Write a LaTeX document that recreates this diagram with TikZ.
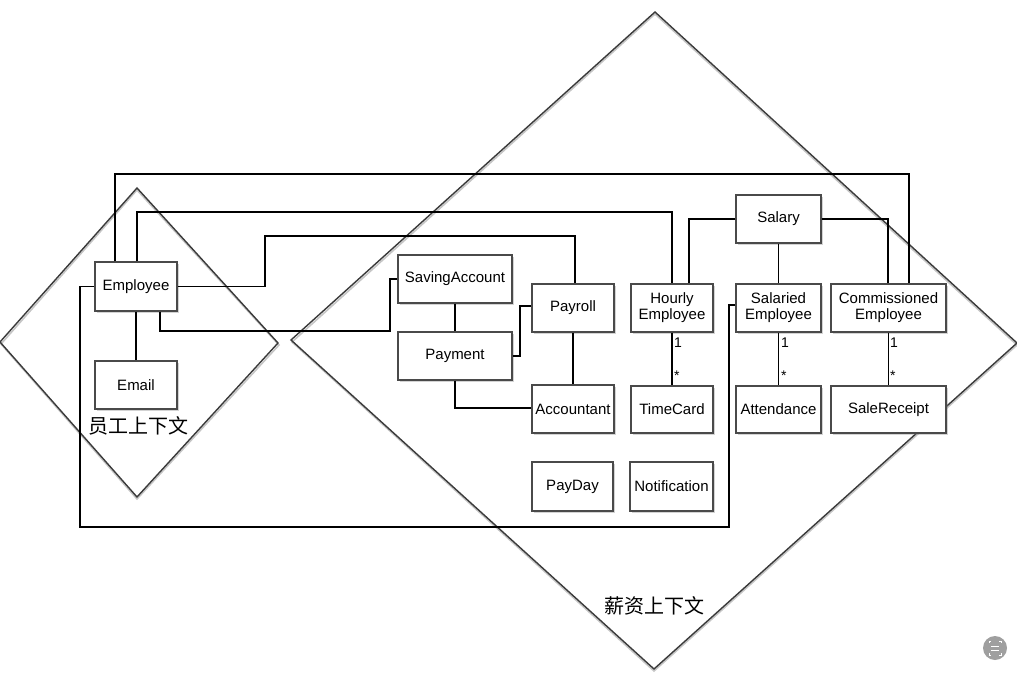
\documentclass[tikz,border=0pt]{standalone}
\usepackage{fontspec}
\setmainfont{Liberation Sans}
\newfontfamily\cjk{Noto Sans CJK SC}
\usetikzlibrary{shadows}
\definecolor{boxline}{HTML}{4A4A4A}
\definecolor{ctxline}{HTML}{3A3A3A}
\begin{document}
\begin{tikzpicture}[x=1pt,y=-1pt,
  box/.style={draw=boxline, line width=1.1pt, fill=white, inner sep=1pt,
    font=\fontsize{15}{16}\selectfont, align=center,
    drop shadow={shadow xshift=1.5pt, shadow yshift=-1.5pt, opacity=0.35, fill=gray}},
  conn/.style={draw=black, line width=1.6pt},
  ctx/.style={draw=ctxline, line width=1.4pt, line join=miter},
  ctxshadow/.style={draw=gray!45, line width=1.6pt},
  mult/.style={font=\fontsize{14}{14}\selectfont, inner sep=0pt, anchor=west},
  ctxlabel/.style={font=\cjk\fontsize{20}{20}\selectfont, inner sep=0pt}]
\useasboundingbox (0,0) rectangle (1017,677);
% contexts (diamonds)
\draw[ctxshadow] (137,190) -- (279,345) -- (137,499) -- (1,344) -- cycle;
\draw[ctx] (137,188) -- (278,343) -- (137,497) -- (0,342) -- cycle;
\draw[ctxshadow] (655,14) -- (1017,345) -- (654,671) -- (292,342) -- cycle;
\draw[ctx] (655,12) -- (1017,343) -- (654,669) -- (291,340) -- cycle;
% boxes
\node[box, minimum width=82pt, minimum height=49pt] (emp) at (136,286.5) {Employee};
\node[box, minimum width=82pt, minimum height=48pt] (email) at (136,385) {Email};
\node[box, minimum width=114pt, minimum height=48pt] (save) at (455,279) {SavingAccount};
\node[box, minimum width=114pt, minimum height=48pt] (pay) at (455,356) {Payment};
\node[box, minimum width=82pt, minimum height=48pt] (payroll) at (573,308) {Payroll};
\node[box, minimum width=82pt, minimum height=48pt] (acc) at (573,409) {Accountant};
\node[box, minimum width=81pt, minimum height=49pt] (payday) at (572.5,486.5) {PayDay};
\node[box, minimum width=83pt, minimum height=49pt] (notif) at (671.5,486.5) {Notification};
\node[box, minimum width=85pt, minimum height=48pt] (salary) at (778.5,219) {Salary};
\node[box, minimum width=82pt, minimum height=48pt] (hourly) at (672,308) {Hourly\\Employee};
\node[box, minimum width=85pt, minimum height=48pt] (salaried) at (778.5,308) {Salaried\\Employee};
\node[box, minimum width=115pt, minimum height=48pt] (comm) at (888.5,308) {Commissioned\\Employee};
\node[box, minimum width=82pt, minimum height=47pt] (time) at (672,409.5) {TimeCard};
\node[box, minimum width=85pt, minimum height=47pt] (att) at (778.5,409.5) {Attendance};
\node[box, minimum width=115pt, minimum height=47pt] (sale) at (888.5,409.5) {SaleReceipt};
% context labels
\node[ctxlabel] (lblemp) at (138,426) {员工上下文};
\node[ctxlabel] (lblpay) at (654,606) {薪资上下文};
% connectors from Employee
\draw[conn] (emp.north -| 115,0) -- (115,174) -- (909,174) -- (comm.north -| 909,0);
\draw[conn] (emp.north -| 137,0) -- (137,212) -- (672,212) -- (hourly.north);
\draw[conn] (emp.east) -- (265,286.5) -- (265,236) -- (575,236) -- (payroll.north -| 575,0);
\draw[conn] (emp.south -| 160,0) -- (160,331) -- (390,331) -- (390,279) -- (save.west);
\draw[conn] (emp.west) -- (80,286.5) -- (80,527) -- (729,527) -- (729,305) -- (salaried.west |- 0,305);
\draw[conn] (emp.south) -- (email.north);
% payroll context
\draw[conn] (save.south) -- (pay.north);
\draw[conn] (pay.east) -- (520,356) -- (520,306) -- (payroll.west |- 0,306);
\draw[conn] (pay.south) -- (455,408) -- (acc.west |- 0,408);
\draw[conn] (payroll.south) -- (acc.north);
% salary hierarchy
\draw[conn] (salary.west) -- (689,219) -- (hourly.north -| 689,0);
\draw[conn] (salary.south) -- (salaried.north);
\draw[conn] (salary.east) -- (888,219) -- (comm.north -| 888,0);
% one-to-many
\draw[conn] (hourly.south) -- (time.north);
\draw[conn] (salaried.south) -- (att.north);
\draw[conn] (comm.south) -- (sale.north);
\node[mult] (h1) at (674,343) {1};
\node[mult] (hs) at (674,376) {*};
\node[mult] (s1) at (781,343) {1};
\node[mult] (ss) at (781,376) {*};
\node[mult] (c1) at (890,343) {1};
\node[mult] (cs) at (890,376) {*};
% corner icon
\fill[gray!75] (995,648) circle (12);
\draw[white, line width=1pt] (989,643) -- (989,641) -- (991,641) (999,641) -- (1001,641) -- (1001,643)
  (1001,653) -- (1001,655) -- (999,655) (991,655) -- (989,655) -- (989,653)
  (991,646) -- (999,646) (991,650) -- (999,650);
\end{tikzpicture}
\end{document}
